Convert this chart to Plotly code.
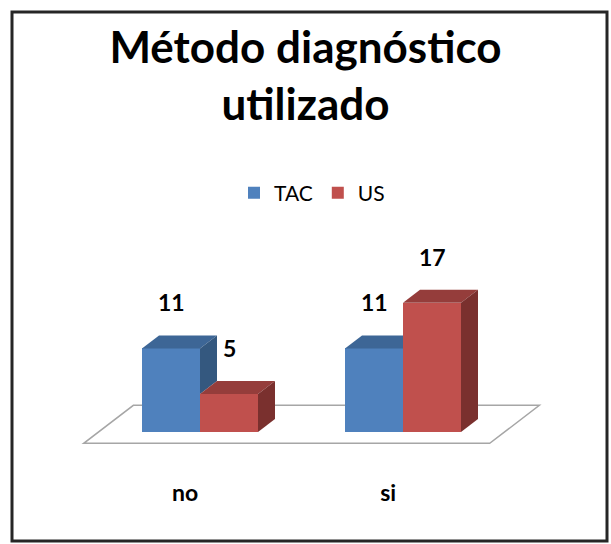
import plotly.graph_objects as go

# ---- data ----
categories = ["no", "si"]
series_names = ["TAC", "US"]
tac_values = [11, 11]
us_values = [5, 17]
title_text = "Método diagnóstico<br>utilizado"

# ---- styles ----
front_colors = ["#4F81BD", "#C0504D"]
top_colors = ["#3D6696", "#953D3B"]
side_colors = ["#34587F", "#7A302E"]
FONT = "Lato, 'Open Sans', sans-serif"

W, H = 611, 544
ML, MR, MT, MB = 20, 20, 230, 67
# pixel calibration (layout only)
X0_PX, X_UNIT_PX = 200.0, 203.0     # pixel of category 0 centre, px per category
Y0_PX, Y_UNIT_PX = 432.0, 7.6       # pixel of value 0, px per unit

x_range = [(ML - X0_PX) / X_UNIT_PX, (W - MR - X0_PX) / X_UNIT_PX]
y_range = [-(H - MB - Y0_PX) / Y_UNIT_PX, (Y0_PX - MT) / Y_UNIT_PX]

bar_w = 58.0 / X_UNIT_PX
dx, dy = 17.0 / X_UNIT_PX, 13.0 / Y_UNIT_PX      # bar depth in data units
floor_front, floor_back = -0.87, 2.05            # floor depth, in bar depths

series = [tac_values, us_values]
xpos = list(range(len(categories)))
offsets = [-bar_w, 0.0]

fig = go.Figure()

# floor (shape below traces)
fx0, fx1 = -0.5, len(categories) - 0.5
pts = [
    (fx0 + floor_front * dx, floor_front * dy),
    (fx1 + floor_front * dx, floor_front * dy),
    (fx1 + floor_back * dx, floor_back * dy),
    (fx0 + floor_back * dx, floor_back * dy),
]
path = "M " + " L ".join(f"{x},{y}" for x, y in pts) + " Z"
fig.add_shape(type="path", path=path, xref="x", yref="y", layer="below",
              line=dict(color="#A6A6A6", width=1.5), fillcolor="white")

# front faces
for si, (name, vals) in enumerate(zip(series_names, series)):
    fig.add_trace(go.Bar(
        x=xpos, y=vals, base=0, width=bar_w, offset=offsets[si],
        name=name, marker=dict(color=front_colors[si], line=dict(width=0)),
        hoverinfo="skip",
    ))

# top and side faces (painter order, clipped against the neighbouring bar)
for ci in xpos:
    for si, vals in enumerate(series):
        h = vals[ci]
        x0 = ci + offsets[si]
        x1 = x0 + bar_w
        nxt = series[si + 1][ci] if si + 1 < len(series) else None
        if nxt is not None and nxt >= h + dy:
            top = [(x0, h), (x1, h), (x1, h + dy), (x0 + dx, h + dy)]
        else:
            top = [(x0, h), (x1, h), (x1 + dx, h + dy), (x0 + dx, h + dy)]
        fig.add_trace(go.Scatter(
            x=[p[0] for p in top] + [top[0][0]], y=[p[1] for p in top] + [top[0][1]],
            fill="toself", fillcolor=top_colors[si], mode="lines",
            line=dict(width=0, color=top_colors[si]),
            showlegend=False, hoverinfo="skip"))
        lo = 0 if nxt is None else min(nxt, h)
        if lo < h:
            side = [(x1, lo), (x1 + dx, lo + dy), (x1 + dx, h + dy), (x1, h)]
            fig.add_trace(go.Scatter(
                x=[p[0] for p in side] + [side[0][0]], y=[p[1] for p in side] + [side[0][1]],
                fill="toself", fillcolor=side_colors[si], mode="lines",
                line=dict(width=0, color=side_colors[si]),
                showlegend=False, hoverinfo="skip"))

# value labels
for si, vals in enumerate(series):
    for ci in xpos:
        fig.add_annotation(
            x=ci + offsets[si] + bar_w / 2, y=vals[ci], xref="x", yref="y",
            text=f"<b>{vals[ci]}</b>", showarrow=False, yshift=46,
            font=dict(family=FONT, size=23, color="#000000"))

# outer frame
pw, ph = W - ML - MR, H - MT - MB
def px2paper_x(px):
    return (px - ML) / pw
def px2paper_y(py):
    return (H - MB - py) / ph
fig.add_shape(type="rect", xref="paper", yref="paper",
              x0=px2paper_x(12), x1=px2paper_x(607), y0=px2paper_y(541), y1=px2paper_y(12),
              line=dict(color="#262626", width=3), fillcolor="rgba(0,0,0,0)", layer="above")

fig.update_layout(
    width=W, height=H,
    margin=dict(l=ML, r=MR, t=MT, b=MB),
    paper_bgcolor="white", plot_bgcolor="white",
    showlegend=True,
    title=dict(text=f"<b>{title_text}</b>", x=0.5, xref="paper", xanchor="center",
               y=1 - 63 / H, yanchor="top", yref="container",
               font=dict(family=FONT, size=44, color="#000000")),
    legend=dict(orientation="h", x=px2paper_x(312), xanchor="center",
                y=px2paper_y(193), yanchor="middle",
                font=dict(family=FONT, size=21, color="#000000"),
                itemclick=False, itemdoubleclick=False,
                bgcolor="rgba(0,0,0,0)", traceorder="normal"),
    xaxis=dict(range=x_range, showgrid=False, zeroline=False, showline=False,
               tickvals=[c + floor_front * dx for c in xpos], ticktext=[f"<b>{c}</b>" for c in categories],
               ticks="", tickfont=dict(family=FONT, size=23, color="#000000"),
               fixedrange=True),
    yaxis=dict(range=y_range, visible=False, fixedrange=True),
    bargap=0,
)

fig.write_html("out.html", config={"displayModeBar": False},
               post_script="document.body.style.margin='0';")
